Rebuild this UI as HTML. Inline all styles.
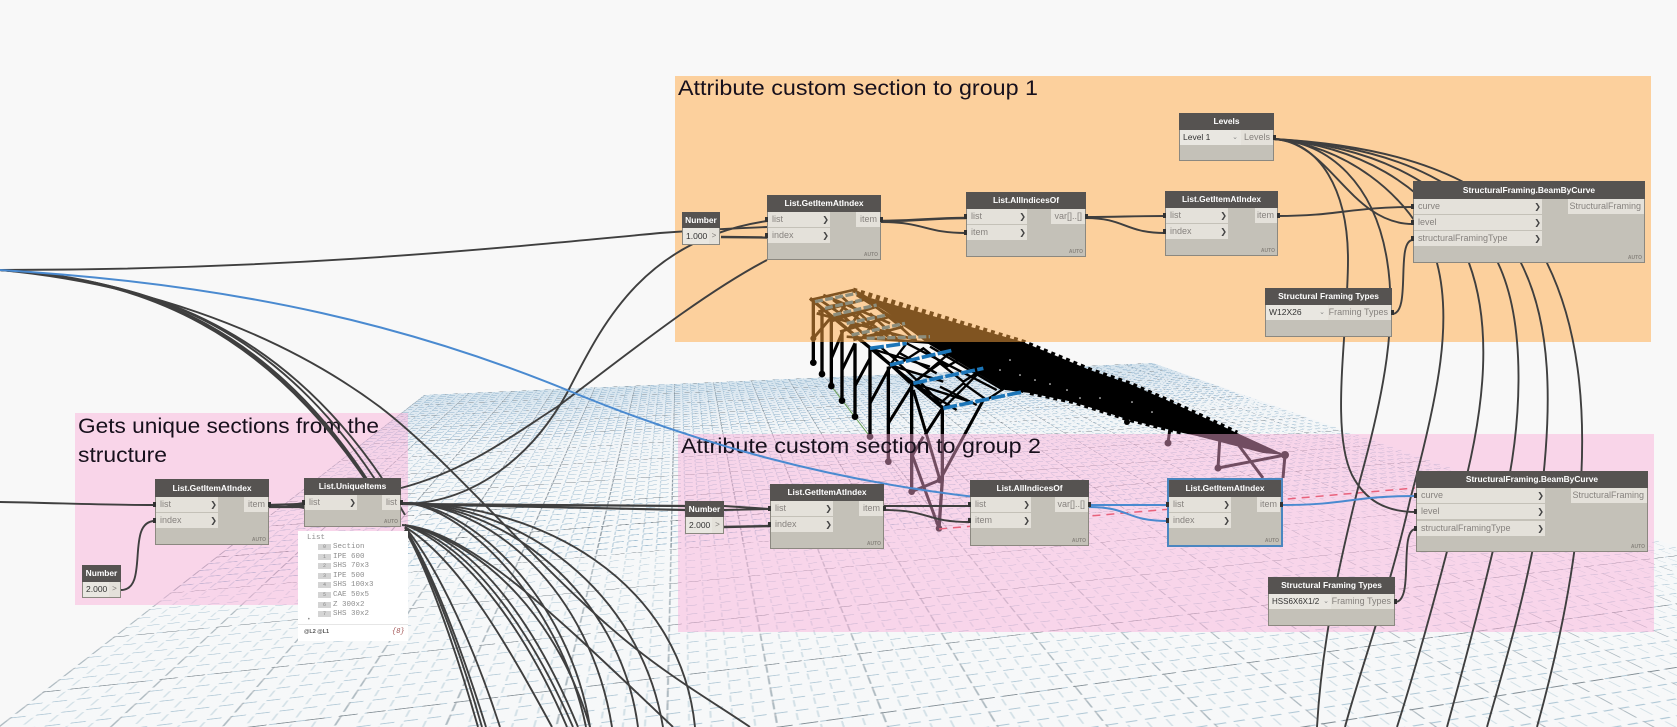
<!DOCTYPE html>
<html><head><meta charset="utf-8"><title>Dynamo graph</title>
<style>
html,body{margin:0;padding:0;background:#f8f8f8;width:1677px;height:727px;overflow:hidden}
#c{position:relative;width:1677px;height:727px;overflow:hidden;background:#f8f8f8;font-family:"Liberation Sans",sans-serif}
#g{position:absolute;left:0;top:0;width:2000px;height:3120px;transform-origin:0 0;
transform:matrix3d(.48985,.02348,0,.0001087,-.212,-.0615,0,-.00031225,0,0,1,0,424,395,0,1)}
svg{position:absolute;left:0;top:0}
.n{position:absolute;background:#c4c1b8;box-shadow:inset 0 0 0 1px #8b8880;box-sizing:border-box}
.h{position:absolute;left:0;right:0;top:0;background:#565351;color:#fff;font-weight:bold;font-size:8.4px;text-align:center;white-space:nowrap;overflow:hidden}
.i,.o{position:absolute;background:#e4e1da;color:#86827e;font-size:9px;height:15px;line-height:15px;white-space:nowrap}
.i{left:1px;padding-left:4px;box-sizing:border-box}
.o{text-align:right;padding-right:3px;box-sizing:border-box}
.i::before{content:"";position:absolute;left:-3px;top:5px;width:3px;height:5px;background:#333}
.o::after{content:"";position:absolute;right:-3px;top:5px;width:3px;height:5px;background:#333}
.o.x::after{display:none}
.i b{position:absolute;right:1px;top:0;color:#444;font:bold 8px "DejaVu Sans",sans-serif;line-height:15px}
.a{position:absolute;right:3px;bottom:2px;font-size:5px;color:#8a867f;font-weight:bold}
.v{position:absolute;left:1px;background:#e9e7e1;color:#333;font-size:8.5px;box-sizing:border-box;padding-left:3px;white-space:nowrap}
.m{position:absolute;background:#e4e1da;color:#7f7b77;font-size:8px;text-align:center}
#p{position:absolute;left:298px;top:531px;width:110px;height:110px;background:#fff}
#p span{position:absolute;font-family:"Liberation Mono",monospace;font-size:7.5px;color:#8d8d8d;white-space:nowrap}
#p i{position:absolute;left:20px;width:13px;height:6px;background:#d4d4d4;font:normal 5px "Liberation Mono",monospace;color:#888;text-align:center;line-height:6px}
</style></head><body><div id="c">

<div id="g"><svg width="2000" height="3120" viewBox="0 0 1000 1560">
<defs>
<pattern id="m1" width="10" height="16" patternUnits="userSpaceOnUse">
<path d="M1 1H8" stroke="#8fb2cc" stroke-width="4" fill="none"/>
<path d="M1 3V13" stroke="#a9c5d8" stroke-width="1" fill="none"/>
</pattern>
<pattern id="m2" width="10" height="16" patternUnits="userSpaceOnUse">
<path d="M1 1H8" stroke="#a2bfd2" stroke-width="2" fill="none"/>
<path d="M1 3V13" stroke="#b4cbda" stroke-width=".8" fill="none"/>
</pattern>
<pattern id="m3" width="10" height="16" patternUnits="userSpaceOnUse">
<path d="M1 1H7" stroke="#afc7d5" stroke-width="1.1" fill="none"/>
<path d="M1 4V12" stroke="#b8ced9" stroke-width=".55" fill="none"/>
</pattern>
<pattern id="ma" width="50" height="80" patternUnits="userSpaceOnUse">
<path d="M0 1H8M12 1H20M24 1H32M36 1H44" stroke="#7c878e" stroke-width="2" fill="none"/>
<path d="M1 0V12M1 16V28M1 32V44M1 48V60M1 64V76" stroke="#87929a" stroke-width=".8" fill="none"/>
</pattern>
<pattern id="mb" width="50" height="80" patternUnits="userSpaceOnUse">
<path d="M0 1H8M12 1H20M24 1H32M36 1H44" stroke="#808b92" stroke-width="1.1" fill="none"/>
<path d="M1 0V12M1 16V28M1 32V44M1 48V60M1 64V76" stroke="#8a959c" stroke-width=".5" fill="none"/>
</pattern>
<linearGradient id="fa" x1="0" y1="0" x2="0" y2="1">
<stop offset="0" stop-color="#d4e3ed"/><stop offset=".08" stop-color="#dfe9f1"/><stop offset=".2" stop-color="#f0f4f7"/><stop offset=".4" stop-color="#f6f8f9"/><stop offset="1" stop-color="#f7f8f9"/>
</linearGradient>
</defs>
<rect width="1000" height="1560" fill="url(#fa)"/>
<rect width="1000" height="352" fill="url(#m1)"/>
<rect y="352" width="1000" height="448" fill="url(#m2)"/>
<rect y="800" width="1000" height="760" fill="url(#m3)"/>
<rect width="1000" height="800" fill="url(#ma)"/>
<rect y="800" width="1000" height="760" fill="url(#mb)"/>
</svg></div>

<!-- truss -->
<svg width="1677" height="727" viewBox="0 0 1677 727">
<polygon fill="#000" points="867,297 1023,342 1090,370 1130,384 1173,403 1237,433 1285,455 1263,453 1197,436 1183,433 1130,420 1073,402 1030,393 1005,390 927,343"/>
<path d="M853 290L1023 342L1090 370L1130 384L1173 403L1237 433" stroke="#000" stroke-width="5" stroke-dasharray="4 4" fill="none"/>
<path d="M1030 393L1073 402L1130 420L1183 433" stroke="#000" stroke-width="4" stroke-dasharray="4 4" fill="none"/>
<g fill="#fff"><circle cx="1035" cy="380" r=".8"/><circle cx="1050" cy="384" r=".8"/><circle cx="1067" cy="390" r=".8"/><circle cx="1080" cy="398" r=".8"/><circle cx="1100" cy="398" r=".8"/><circle cx="1132" cy="402" r=".8"/><circle cx="1152" cy="412" r=".8"/><circle cx="1010" cy="360" r=".8"/><circle cx="1000" cy="370" r=".8"/><circle cx="1020" cy="375" r=".8"/></g>
<path d="M1220 436L1218 468L1285 455L1283 478M1237 443L1263 478M1127 415V424M1170 428L1168 443" stroke="#000" stroke-width="3" fill="none"/>
<circle cx="1218" cy="468" r="3.5"/><circle cx="1285" cy="455" r="4"/><circle cx="1168" cy="443" r="3.5"/><circle cx="1127" cy="422" r="3"/>
<g transform="translate(790 280) scale(.33333)">
<path d="M125 320L240 470" stroke="#6aa05a" stroke-width="3" fill="none"/>
<path d="M295 545L447 745" stroke="#889" stroke-width="2" stroke-dasharray="5 5" fill="none"/>
<path d="M60 55L460 385M190 30L700 335" stroke="#000" stroke-width="10" fill="none"/>
<path d="M70 60V248M96 85V282M124 115V318M156 150V362M195 190V410M240 205V470M295 260V545M365 310V635M457 385V600L447 745" stroke="#000" stroke-width="10" fill="none"/>
<path d="M70 175L125 110M124 235L160 150M156 270L195 190M195 318L240 235M240 370L300 260M295 430L370 310M370 330L450 600M450 600L580 360M405 465L460 380M365 520L447 745M365 635L450 600M400 470L365 530" stroke="#000" stroke-width="9" fill="none"/>
<path d="M240 205L420 260M350 190L300 255M300 255L460 305M490 210L370 310M370 310L540 365M580 265L460 385M420 200L640 330M350 190L620 330M300 255L420 345M370 310L500 390" stroke="#000" stroke-width="7" fill="none"/>
<path d="M270 200L330 250L400 205L470 260L540 220M320 245L380 300L450 250L520 305L590 260M390 305L450 370L520 310L590 360L650 320M490 210L580 265L700 335M420 190L490 210M260 215L360 310M330 220L440 280M450 320L560 375" stroke="#000" stroke-width="7" fill="none"/>
<path d="M60 60L190 30M85 95L220 60M120 125L260 80M150 155L300 110M190 180L340 140M100 45L300 130M80 100L380 180M60 55L215 185M130 60L290 180M200 45L390 165" stroke="#000" stroke-width="8" fill="none"/>
<path d="M110 80L170 70L140 110L210 95L180 140L250 130L220 170L300 160M90 60L150 100L230 170M150 45L230 120L300 175M220 50L320 130L380 185M240 100L330 185M170 170L420 188" stroke="#000" stroke-width="8" fill="none"/>
<path d="M75 65L200 40M105 85L215 60M130 105L260 75M170 130L290 105M185 165L345 130M230 175L420 170" stroke="#1b75b8" stroke-width="10" stroke-dasharray="24 7" fill="none"/>
<path d="M240 205L350 190M300 255L490 210M370 310L580 265M460 385L700 335" stroke="#1b75b8" stroke-width="11" stroke-dasharray="42 7" fill="none"/>
<g><circle cx="70" cy="248" r="10"/><circle cx="96" cy="282" r="10"/><circle cx="124" cy="318" r="10"/><circle cx="156" cy="362" r="10"/><circle cx="195" cy="410" r="10"/><circle cx="240" cy="470" r="10"/><circle cx="295" cy="545" r="10"/><circle cx="365" cy="635" r="10"/><circle cx="450" cy="600" r="10"/><circle cx="447" cy="745" r="10"/><circle cx="70" cy="175" r="9"/></g>
</g>
</svg>

<!-- groups -->
<div style="position:absolute;left:675px;top:76px;width:976px;height:266px;background:rgba(255,168,66,.5)"></div>
<div style="position:absolute;left:75px;top:413px;width:333px;height:192px;background:rgba(250,170,215,.45)"></div>
<div style="position:absolute;left:678px;top:434px;width:976px;height:198px;background:rgba(250,170,215,.45)"></div>
<svg width="1677" height="727" viewBox="0 0 1677 727" font-family="Liberation Sans, sans-serif" font-size="21" fill="#17101c">
<text x="678" y="95" textLength="360" lengthAdjust="spacingAndGlyphs">Attribute custom section to group 1</text>
<text x="681" y="453" textLength="360" lengthAdjust="spacingAndGlyphs">Attribute custom section to group 2</text>
<text x="78" y="433" textLength="301" lengthAdjust="spacingAndGlyphs">Gets unique sections from the</text>
<text x="78" y="462" textLength="89" lengthAdjust="spacingAndGlyphs">structure</text>
</svg>

<!-- wires -->
<svg width="1677" height="727" viewBox="0 0 1677 727" fill="none" stroke="#3f3f3f" stroke-width="1.9">
<path d="M939 529L1415 488" stroke="#e8627c" stroke-width="1.5" stroke-dasharray="8 6"/>
<!-- top left bundle -->
<path d="M0 270C140 280 280 320 395 525"/><path d="M0 270C135 279 272 322 388 515"/><path d="M0 270C142 281 285 318 400 520"/><path d="M0 270C145 280 295 325 405 515"/><path d="M0 270C130 277 268 318 382 505"/>
<path d="M0 270C130 282 270 325 380 407C450 460 540 570 625 640C670 677 710 700 750 727"/>
<path d="M0 270C280 270 480 250 660 233C700 230 740 228 767 227"/>
<path d="M401 504C470 504 530 460 567 393C600 330 640 240 767 221"/>
<path d="M401 488C470 470 520 430 557 407C620 360 700 295 767 260"/>
<path d="M721 237L767 237.5" stroke-width="2.4"/>
<path d="M881 221C920 221 930 218 966 218" stroke-width="2.6"/>
<path d="M881 222C925 222 925 233 966 233"/>
<path d="M1086 217C1120 217 1130 216 1165 216"/>
<path d="M1086 218C1125 218 1125 233 1165 233"/>
<path d="M1277 216C1340 216 1350 207 1413 207"/>
<!-- levels -->
<path d="M1274 139C1380 145 1500 170 1547 263C1575 320 1590 400 1578 520C1570 600 1550 680 1537 727"/>
<path d="M1274 139C1370 145 1470 170 1521 263C1550 320 1555 400 1538 520C1525 600 1500 680 1487 727"/>
<path d="M1274 139C1360 145 1450 175 1498 263C1525 320 1525 420 1500 520C1482 600 1460 680 1447 727"/>
<path d="M1274 139C1350 145 1430 180 1469 263C1490 320 1490 400 1455 520C1435 600 1412 680 1397 727"/>
<path d="M1274 139C1340 145 1410 190 1437 263C1452 320 1440 390 1410 500C1390 590 1360 670 1345 727"/>
<path d="M1274 139C1330 142 1375 185 1387 260C1397 320 1385 390 1360 480C1340 560 1322 640 1317 727"/>
<path d="M1274 139C1320 142 1348 190 1348 260C1348 330 1330 430 1352 475C1365 500 1385 512 1416 512"/>
<path d="M1274 139C1330 142 1350 224 1413 224"/>
<path d="M1392 314C1412 314 1395 240 1413 240"/>
<path d="M1395 602C1415 602 1398 529 1416 529"/>
<!-- pink 1 -->
<path d="M0 502C60 503 100 505 155 505"/>
<path d="M121 590C150 590 125 521 155 521"/>
<path d="M269 505L304 504M269 507L304 507" stroke-width="2.2"/>
<path d="M283 505L304 502V509Z" fill="#3f3f3f" stroke="none"/>
<!-- to pink 2 -->
<path d="M402 504L686 506M402 504L686 510" stroke-width="2.2"/>
<path d="M724 506L770 509M724 510L770 509" stroke-width="2"/>
<path d="M724 527L770 526" stroke-width="2.4"/>
<path d="M884 506L970 506"/>
<path d="M884 510C930 510 925 522 970 522"/>
<!-- outgoing A -->
<path d="M402 503C540 503 680 580 695 727"/>
<path d="M402 503C520 503 640 590 663 727"/>
<path d="M402 503C500 503 620 590 638 727"/>
<path d="M402 503C490 503 590 590 612 727"/>
<path d="M402 503C470 503 570 600 590 727"/>
<path d="M402 503C460 503 560 600 586 727"/>
<!-- outgoing B -->
<path d="M402 525C470 530 560 620 673 727"/>
<path d="M405 530C430 570 460 650 482 727"/>
<path d="M405 530C428 570 456 650 478 727"/>
<path d="M405 528C432 570 462 650 486 727"/>
<path d="M405 527C440 570 475 650 500 727"/>
<path d="M405 527C460 560 510 650 552 727"/>
<path d="M405 525C470 550 530 640 567 727"/>
<path d="M405 525C475 545 535 640 573 727"/>
<path d="M405 525C480 540 540 635 578 727"/>
<path d="M405 525C490 545 560 625 590 727"/>
<!-- blue -->
<g stroke="#4a8ad0" stroke-width="2">
<path d="M0 270C250 285 420 330 567 390C700 445 830 480 975 497"/>
<path d="M1089 505C1120 505 1135 505 1168 505"/>
<path d="M1089 507C1130 507 1125 521 1168 521"/>
<path d="M1281 505C1350 505 1350 496 1416 496"/>
</g>
</svg>

<!-- nodes -->
<div class="n" style="left:682px;top:212px;width:38px;height:33px"><div class="h" style="height:16px;line-height:16px">Number</div><div class="v" style="top:16px;width:26px;height:16px;line-height:16px">1.000</div><div class="m" style="left:27px;top:16px;width:10px;height:16px;line-height:15px">&gt;</div></div>

<div class="n" style="left:767px;top:195px;width:114px;height:65px"><div class="h" style="height:17px;line-height:17px">List.GetItemAtIndex</div><div class="i" style="top:17px;width:62px">list<b>❯</b></div><div class="i" style="top:33px;width:62px">index<b>❯</b></div><div class="o" style="left:89px;top:17px;width:24px">item</div><div class="a">AUTO</div></div>

<div class="n" style="left:966px;top:192px;width:120px;height:65px"><div class="h" style="height:17px;line-height:17px">List.AllIndicesOf</div><div class="i" style="top:17px;width:60px">list<b>❯</b></div><div class="i" style="top:33px;width:60px">item<b>❯</b></div><div class="o" style="left:85px;top:17px;width:34px">var[]..[]</div><div class="a">AUTO</div></div>

<div class="n" style="left:1165px;top:191px;width:113px;height:65px"><div class="h" style="height:17px;line-height:17px">List.GetItemAtIndex</div><div class="i" style="top:17px;width:62px">list<b>❯</b></div><div class="i" style="top:33px;width:62px">index<b>❯</b></div><div class="o" style="left:90px;top:17px;width:22px">item</div><div class="a">AUTO</div></div>

<div class="n" style="left:1179px;top:113px;width:95px;height:48px"><div class="h" style="height:17px;line-height:17px">Levels</div><div class="v" style="top:17px;width:61px;height:15px;line-height:15px">Level 1<span style="position:absolute;right:3px;color:#888;font-size:7px">⌄</span></div><div class="o" style="left:62px;top:17px;width:32px;text-align:right">Levels</div></div>

<div class="n" style="left:1413px;top:181px;width:232px;height:82px"><div class="h" style="height:18px;line-height:18px">StructuralFraming.BeamByCurve</div><div class="i" style="top:18px;width:128px">curve<b>❯</b></div><div class="i" style="top:34px;width:128px">level<b>❯</b></div><div class="i" style="top:50px;width:128px">structuralFramingType<b>❯</b></div><div class="o x" style="left:155px;top:18px;width:76px">StructuralFraming</div><div class="a">AUTO</div></div>

<div class="n" style="left:1265px;top:288px;width:127px;height:49px"><div class="h" style="height:17px;line-height:17px">Structural Framing Types</div><div class="v" style="top:17px;width:62px;height:15px;line-height:15px">W12X26<span style="position:absolute;right:3px;color:#888;font-size:7px">⌄</span></div><div class="o" style="left:63px;top:17px;width:63px">Framing Types</div></div>

<div class="n" style="left:155px;top:479px;width:114px;height:66px"><div class="h" style="height:18px;line-height:18px">List.GetItemAtIndex</div><div class="i" style="top:18px;width:62px">list<b>❯</b></div><div class="i" style="top:34px;width:62px">index<b>❯</b></div><div class="o" style="left:89px;top:18px;width:24px">item</div><div class="a">AUTO</div></div>

<div class="n" style="left:304px;top:478px;width:97px;height:49px"><div class="h" style="height:17px;line-height:17px">List.UniqueItems</div><div class="i" style="top:17px;width:52px">list<b>❯</b></div><div class="o" style="left:78px;top:17px;width:18px">list</div><div class="a">AUTO</div></div>

<div class="n" style="left:82px;top:565px;width:39px;height:33px"><div class="h" style="height:17px;line-height:17px">Number</div><div class="v" style="top:17px;width:26px;height:15px;line-height:15px">2.000</div><div class="m" style="left:27px;top:17px;width:11px;height:15px;line-height:14px">&gt;</div></div>

<div class="n" style="left:685px;top:501px;width:39px;height:33px"><div class="h" style="height:16px;line-height:16px">Number</div><div class="v" style="top:16px;width:26px;height:16px;line-height:16px">2.000</div><div class="m" style="left:27px;top:16px;width:11px;height:16px;line-height:15px">&gt;</div></div>

<div class="n" style="left:770px;top:484px;width:114px;height:65px"><div class="h" style="height:17px;line-height:17px">List.GetItemAtIndex</div><div class="i" style="top:17px;width:62px">list<b>❯</b></div><div class="i" style="top:33px;width:62px">index<b>❯</b></div><div class="o" style="left:89px;top:17px;width:24px">item</div><div class="a">AUTO</div></div>

<div class="n" style="left:970px;top:480px;width:119px;height:66px"><div class="h" style="height:17px;line-height:17px">List.AllIndicesOf</div><div class="i" style="top:17px;width:60px">list<b>❯</b></div><div class="i" style="top:33px;width:60px">item<b>❯</b></div><div class="o" style="left:85px;top:17px;width:33px">var[]..[]</div><div class="a">AUTO</div></div>

<div class="n" style="left:1168px;top:479px;width:114px;height:67px;outline:2px solid #4a86c0;outline-offset:-1px"><div class="h" style="height:17px;line-height:17px;left:1px;right:1px;top:1px">List.GetItemAtIndex</div><div class="i" style="top:18px;width:62px">list<b>❯</b></div><div class="i" style="top:34px;width:62px">index<b>❯</b></div><div class="o" style="left:89px;top:18px;width:23px">item</div><div class="a">AUTO</div></div>

<div class="n" style="left:1416px;top:471px;width:232px;height:81px"><div class="h" style="height:17px;line-height:17px">StructuralFraming.BeamByCurve</div><div class="i" style="top:17px;width:128px">curve<b>❯</b></div><div class="i" style="top:33px;width:128px">level<b>❯</b></div><div class="i" style="top:50px;width:128px">structuralFramingType<b>❯</b></div><div class="o x" style="left:155px;top:17px;width:76px">StructuralFraming</div><div class="a">AUTO</div></div>

<div class="n" style="left:1268px;top:577px;width:127px;height:49px"><div class="h" style="height:17px;line-height:17px">Structural Framing Types</div><div class="v" style="top:17px;width:62px;height:15px;line-height:15px;font-size:8px">HSS6X6X1/2<span style="position:absolute;right:2px;color:#888;font-size:7px">⌄</span></div><div class="o" style="left:63px;top:17px;width:63px">Framing Types</div></div>

<!-- preview -->
<div id="p">
<span style="left:9px;top:3px">List</span>
<i style="top:13px">0</i><span style="left:35px;top:12px">Section</span>
<i style="top:23px">1</i><span style="left:35px;top:22px">IPE 600</span>
<i style="top:32px">2</i><span style="left:35px;top:31px">SHS 70x3</span>
<i style="top:42px">3</i><span style="left:35px;top:41px">IPE 500</span>
<i style="top:51px">4</i><span style="left:35px;top:50px">SHS 100x3</span>
<i style="top:61px">5</i><span style="left:35px;top:60px">CAE 50x5</span>
<i style="top:71px">6</i><span style="left:35px;top:70px">Z 300x2</span>
<i style="top:80px">7</i><span style="left:35px;top:79px">SHS 30x2</span>
<span style="left:9px;top:85px;font-size:6px">•</span>
<div style="position:absolute;left:0;right:0;top:93px;height:1px;background:#e6e6e6"></div>
<span style="left:6px;top:98px;font:bold 5.5px 'Liberation Sans',sans-serif;color:#555">@L2 @L1</span>
<span style="left:94px;top:97px;font-size:7px;font-style:italic;color:#a05050">{8}</span>
</div>

</div></body></html>
